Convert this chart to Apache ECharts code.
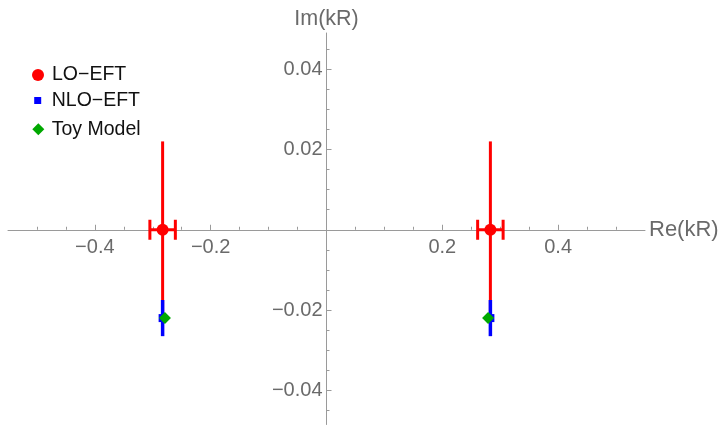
<!DOCTYPE html>
<html>
<head>
<meta charset="utf-8">
<script src="https://cdn.jsdelivr.net/npm/echarts@6/dist/echarts.min.js"></script>
<style>
  html, body { margin: 0; padding: 0; background: #fff; }
  #chart { width: 721px; height: 425px; }
</style>
</head>
<body>
<div id="chart"></div>
<script>
// Pole positions in the complex kR plane, with their uncertainties
const loRe = [-0.283, 0.283];
const loIm = [0, 0];
const loReErr = [0.022, 0.022];
const loImErr = [0.022, 0.022];

const nloRe = [-0.283, 0.283];
const nloIm = [-0.022, -0.022];
const nloImErr = [0.0045, 0.0045];

const toyRe = [-0.279, 0.279];
const toyIm = [-0.022, -0.022];

// Labelled ticks
const xTickLabels = [-0.4, -0.2, 0.2, 0.4];
const yTickLabels = [-0.04, -0.02, 0.02, 0.04];

// Axis ranges
const X_MIN = -0.55, X_MAX = 0.55;
const Y_MIN = -0.0485, Y_MAX = 0.049;

// Small unlabelled ticks between the labelled ones
function stepTicks(from, to, step) {
  const out = [];
  const n = Math.round((to - from) / step);
  for (let i = 0; i <= n; i++) out.push(+(from + i * step).toFixed(4));
  return out;
}
const xMinorTicks = stepTicks(-0.5, 0.5, 0.05);
const yMinorTicks = stepTicks(-0.045, 0.045, 0.005);

// Plot box; the axes cross at the origin, so shift them in from the edges
const W = 721, H = 425;
const GRID = { left: 8, right: 76, top: 33, bottom: 0.5 };
const gridW = W - GRID.left - GRID.right;
const gridH = H - GRID.top - GRID.bottom;
const yAxisShift = -gridW * (0 - X_MIN) / (X_MAX - X_MIN);
const xAxisShift = -gridH * (0 - Y_MIN) / (Y_MAX - Y_MIN);

const FONT = 'Liberation Sans, Arial, Helvetica, sans-serif';
const AXIS_COLOR = '#9a9a9a';
const LABEL_COLOR = '#6a6a6a';
const fmt = v => String(v).replace('-', '\u2212');

const LO = 'LO\u2212EFT';
const NLO = 'NLO\u2212EFT';
const TOY = 'Toy Model';

// Error bars: [x, y, xErr, yErr]; horizontal bars get end caps
function errorBarRenderer(color, width, capHalf) {
  return function (params, api) {
    const x = api.value(0), y = api.value(1);
    const ex = api.value(2), ey = api.value(3);
    const style = { stroke: color, lineWidth: width };
    const children = [];
    if (ey > 0) {
      const a = api.coord([x, y + ey]);
      const b = api.coord([x, y - ey]);
      children.push({ type: 'line', shape: { x1: a[0], y1: a[1], x2: b[0], y2: b[1] }, style });
    }
    if (ex > 0) {
      const l = api.coord([x - ex, y]);
      const r = api.coord([x + ex, y]);
      children.push({ type: 'line', shape: { x1: l[0], y1: l[1], x2: r[0], y2: r[1] }, style });
      children.push({ type: 'line', shape: { x1: l[0], y1: l[1] - capHalf, x2: l[0], y2: l[1] + capHalf }, style });
      children.push({ type: 'line', shape: { x1: r[0], y1: r[1] - capHalf, x2: r[0], y2: r[1] + capHalf }, style });
    }
    return { type: 'group', children };
  };
}

const loBars = loRe.map((x, i) => [x, loIm[i], loReErr[i], loImErr[i]]);
const nloBars = nloRe.map((x, i) => [x, nloIm[i], 0, nloImErr[i]]);
const loPts = loRe.map((x, i) => [x, loIm[i]]);
const nloPts = nloRe.map((x, i) => [x, nloIm[i]]);
const toyPts = toyRe.map((x, i) => [x, toyIm[i]]);

const legendText = (pad) => ({
  fontFamily: FONT, fontSize: 19.5, color: '#111', lineHeight: 20, padding: pad
});

const tickStyle = { color: AXIS_COLOR, width: 1 };

const chart = echarts.init(document.getElementById('chart'), null, { renderer: 'canvas' });
chart.setOption({
  animation: false,
  backgroundColor: '#fff',
  grid: Object.assign({ containLabel: false, outerBoundsMode: 'none' }, GRID),
  legend: [
    { data: [LO], icon: 'circle', itemWidth: 12, itemHeight: 12, left: 32, top: 60.5,
      padding: 0, selectedMode: false, textStyle: legendText([0, 0, 9, 3]) },
    { data: [NLO], icon: 'rect', itemWidth: 7, itemHeight: 7, left: 34.2, top: 86.5,
      padding: 0, selectedMode: false, textStyle: legendText([0, 0, 8, 5.5]) },
    { data: [TOY], icon: 'diamond', itemWidth: 12, itemHeight: 12, left: 32.3, top: 112.7,
      padding: 0, selectedMode: false, textStyle: legendText([0, 0, 13, 2.4]) }
  ],
  xAxis: [
    {
      type: 'value', min: X_MIN, max: X_MAX, position: 'bottom', offset: xAxisShift,
      name: 'Re(kR)', nameLocation: 'end', nameGap: 4,
      nameTextStyle: { fontFamily: FONT, fontSize: 22, color: LABEL_COLOR },
      axisLine: { onZero: false, lineStyle: { color: AXIS_COLOR, width: 1 } },
      axisTick: { show: true, inside: true, length: 5, customValues: xTickLabels, lineStyle: tickStyle },
      axisLabel: { customValues: xTickLabels, formatter: fmt, fontFamily: FONT,
        fontSize: 20, color: LABEL_COLOR, margin: 8 },
      splitLine: { show: false }
    },
    {
      type: 'value', min: X_MIN, max: X_MAX, position: 'bottom', offset: xAxisShift,
      axisLine: { show: false, onZero: false },
      axisTick: { show: true, inside: true, length: 3, customValues: xMinorTicks, lineStyle: tickStyle },
      axisLabel: { show: false },
      splitLine: { show: false }
    }
  ],
  yAxis: [
    {
      type: 'value', min: Y_MIN, max: Y_MAX, position: 'left', offset: yAxisShift,
      name: 'Im(kR)', nameLocation: 'end', nameGap: 3,
      nameTextStyle: { fontFamily: FONT, fontSize: 21.5, color: LABEL_COLOR },
      axisLine: { onZero: false, lineStyle: { color: AXIS_COLOR, width: 1 } },
      axisTick: { show: true, inside: true, length: 5, customValues: yTickLabels, lineStyle: tickStyle },
      axisLabel: { customValues: yTickLabels, formatter: fmt, fontFamily: FONT,
        fontSize: 20, color: LABEL_COLOR, margin: 4 },
      splitLine: { show: false }
    },
    {
      type: 'value', min: Y_MIN, max: Y_MAX, position: 'left', offset: yAxisShift,
      axisLine: { show: false, onZero: false },
      axisTick: { show: true, inside: true, length: 3, customValues: yMinorTicks, lineStyle: tickStyle },
      axisLabel: { show: false },
      splitLine: { show: false }
    }
  ],
  series: [
    { name: LO + ' error', type: 'custom', xAxisIndex: 0, yAxisIndex: 0, z: 2,
      renderItem: errorBarRenderer('#ff0000', 3, 10), data: loBars, silent: true },
    { name: LO, type: 'scatter', xAxisIndex: 0, yAxisIndex: 0, z: 3,
      symbol: 'circle', symbolSize: 12, itemStyle: { color: '#ff0000', opacity: 1 },
      data: loPts, silent: true },
    { name: NLO + ' error', type: 'custom', xAxisIndex: 0, yAxisIndex: 0, z: 4,
      renderItem: errorBarRenderer('#0000ff', 3.5, 0), data: nloBars, silent: true },
    { name: NLO, type: 'scatter', xAxisIndex: 0, yAxisIndex: 0, z: 5,
      symbol: 'rect', symbolSize: 8, itemStyle: { color: '#0000ff', opacity: 1 },
      data: nloPts, silent: true },
    { name: TOY, type: 'scatter', xAxisIndex: 0, yAxisIndex: 0, z: 6,
      symbol: 'diamond', symbolSize: 12, itemStyle: { color: '#00a800', opacity: 1 },
      data: toyPts, silent: true }
  ]
});
</script>
</body>
</html>
